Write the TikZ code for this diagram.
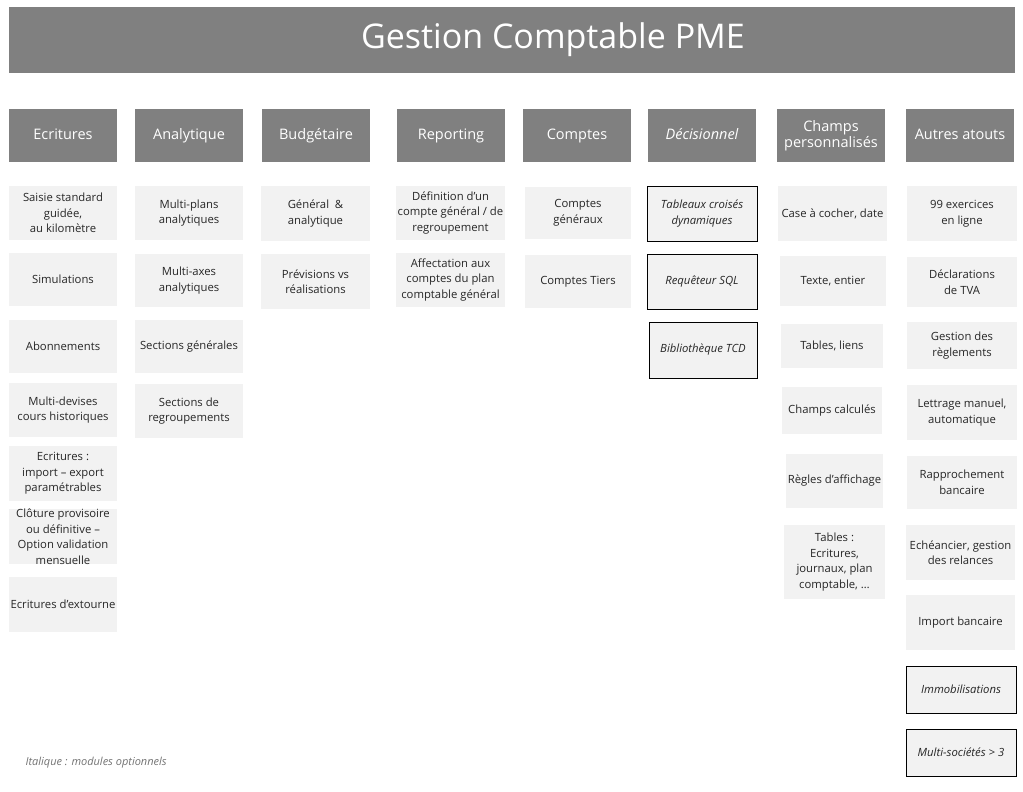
\documentclass[tikz,border=0pt]{standalone}
\usepackage{fontspec}
\setmainfont{Open Sans}
\usepackage{xcolor}
\definecolor{hdgray}{HTML}{808080}
\definecolor{itemgray}{HTML}{F2F2F2}
\definecolor{itemtext}{HTML}{262626}

\begin{document}
\begin{tikzpicture}[x=1pt,y=-1pt,
  titlebar/.style={fill=hdgray,minimum width=1006pt,minimum height=66pt,inner sep=0pt},
  titletext/.style={text=white,font=\fontsize{34}{36}\selectfont},
  header/.style={fill=hdgray,text=white,minimum width=108pt,minimum height=53pt,inner sep=0pt,align=center,font=\fontsize{14.5}{16}\selectfont},
  headone/.style={header,text height=10.5pt,text depth=3pt},
  item/.style={fill=itemgray,text=itemtext,minimum width=108pt,minimum height=54pt,inner sep=0pt,align=center,font=\fontsize{11.3}{15.5}\selectfont},
  option/.style={item,draw=black,line width=0.8pt,font=\fontsize{11.3}{15.5}\selectfont\itshape}]
\useasboundingbox (0,0) rectangle (1023,792);
\node[titlebar] (title) at (512,40) {};
\node[titletext] (titlelbl) at (553,39.5) {Gestion Comptable PME};
% en-tetes
\node[headone] (hecr) at (63,135.5) {Ecritures};
\node[headone] (hana) at (189,135.5) {Analytique};
\node[headone] (hbud) at (316,135.5) {Budgétaire};
\node[headone] (hrep) at (451,135.5) {Reporting};
\node[headone] (hcpt) at (577,135.5) {Comptes};
\node[headone,font=\fontsize{14.5}{16}\selectfont\itshape] (hdec) at (702,135.5) {Décisionnel};
\node[header] (hchp) at (831,135.5) {Champs\\personnalisés};
\node[headone] (haut) at (960,135.5) {Autres atouts};
% Ecritures
\node[item] (ecr1) at (63,213) {Saisie standard\\guidée,\\au kilomètre};
\node[item,minimum height=53pt] (ecr2) at (63,279.5) {Simulations};
\node[item,minimum height=53pt] (ecr3) at (63,346.5) {Abonnements};
\node[item] (ecr4) at (63,410) {Multi-devises\\cours historiques};
\node[item,minimum height=55pt] (ecr5) at (63,473.5) {Ecritures :\\import – export\\paramétrables};
\node[item,minimum height=53pt] (ecr6) at (63,536.5) {Clôture provisoire\\ou définitive –\\Option validation\\mensuelle};
\node[item,minimum height=55pt] (ecr7) at (63,604.5) {Ecritures d’extourne};
% Analytique
\node[item] (ana1) at (189,213) {Multi-plans\\analytiques};
\node[item,minimum height=53pt] (ana2) at (189,280.5) {Multi-axes\\analytiques};
\node[item,minimum height=53pt] (ana3) at (189,346.5) {Sections générales};
\node[item] (ana4) at (189,411) {Sections de\\regroupements};
% Budgetaire
\node[item,minimum width=109pt,minimum height=55pt] (bud1) at (315.5,213.5) {Général~~\&\\analytique};
\node[item,minimum width=109pt,minimum height=55pt] (bud2) at (315.5,281.5) {Prévisions vs\\réalisations};
% Reporting
\node[item,minimum width=109pt] (rep1) at (450.5,213) {Définition d’un\\compte général / de\\regroupement};
\node[item,minimum width=109pt] (rep2) at (450.5,280) {Affectation aux\\comptes du plan\\comptable général};
% Comptes
\node[item,minimum width=106pt,minimum height=52pt] (cpt1) at (578,213) {Comptes\\généraux};
\node[item,minimum width=106pt,minimum height=53pt] (cpt2) at (578,281.5) {Comptes Tiers};
% Decisionnel
\node[option,minimum width=110pt,minimum height=55pt] (dec1) at (702,213.5) {Tableaux croisés\\dynamiques};
\node[option,minimum width=110pt,minimum height=55pt] (dec2) at (702,281.5) {Requêteur SQL};
\node[option,minimum height=56pt] (dec3) at (703,350) {Bibliothèque TCD};
% Champs personnalises
\node[item,minimum width=109pt,minimum height=55pt] (chp1) at (832.5,213.5) {Case à cocher, date};
\node[item,minimum width=106pt,minimum height=50pt] (chp2) at (833,281) {Texte, entier};
\node[item,minimum width=102pt,minimum height=44pt] (chp3) at (832,346) {Tables, liens};
\node[item,minimum width=100pt,minimum height=47pt] (chp4) at (832,410.5) {Champs calculés};
\node[item,minimum width=97pt,minimum height=54pt] (chp5) at (834.5,481) {Règles d’affichage};
\node[item,minimum width=101pt,minimum height=74pt] (chp6) at (834.5,562) {Tables :\\Ecritures,\\journaux, plan\\comptable, …};
% Autres atouts
\node[item,minimum width=110pt,minimum height=55pt] (aut1) at (962,213.5) {99 exercices\\en ligne};
\node[item,minimum width=110pt,minimum height=50pt] (aut2) at (962,282) {Déclarations\\de TVA};
\node[item,minimum width=110pt,minimum height=47pt] (aut3) at (962,345.5) {Gestion des\\règlements};
\node[item,minimum width=110pt,minimum height=55pt] (aut4) at (962,412.5) {Lettrage manuel,\\automatique};
\node[item,minimum width=110pt,minimum height=53pt] (aut5) at (962,482.5) {Rapprochement\\bancaire};
\node[item,minimum width=109pt,minimum height=55pt] (aut6) at (960.5,552.5) {Echéancier, gestion\\des relances};
\node[item,minimum width=109pt,minimum height=55pt] (aut7) at (960.5,622.5) {Import bancaire};
\node[option,minimum width=110pt,minimum height=47pt] (aut8) at (961,689.5) {Immobilisations};
\node[option,minimum width=110pt,minimum height=47pt] (aut9) at (961,752.5) {Multi-sociétés > 3};
% legende
\node[anchor=west,text=hdgray!90!black,font=\fontsize{11}{13}\selectfont\itshape] (legend) at (22,763) {Italique : modules optionnels};
\end{tikzpicture}
\end{document}
